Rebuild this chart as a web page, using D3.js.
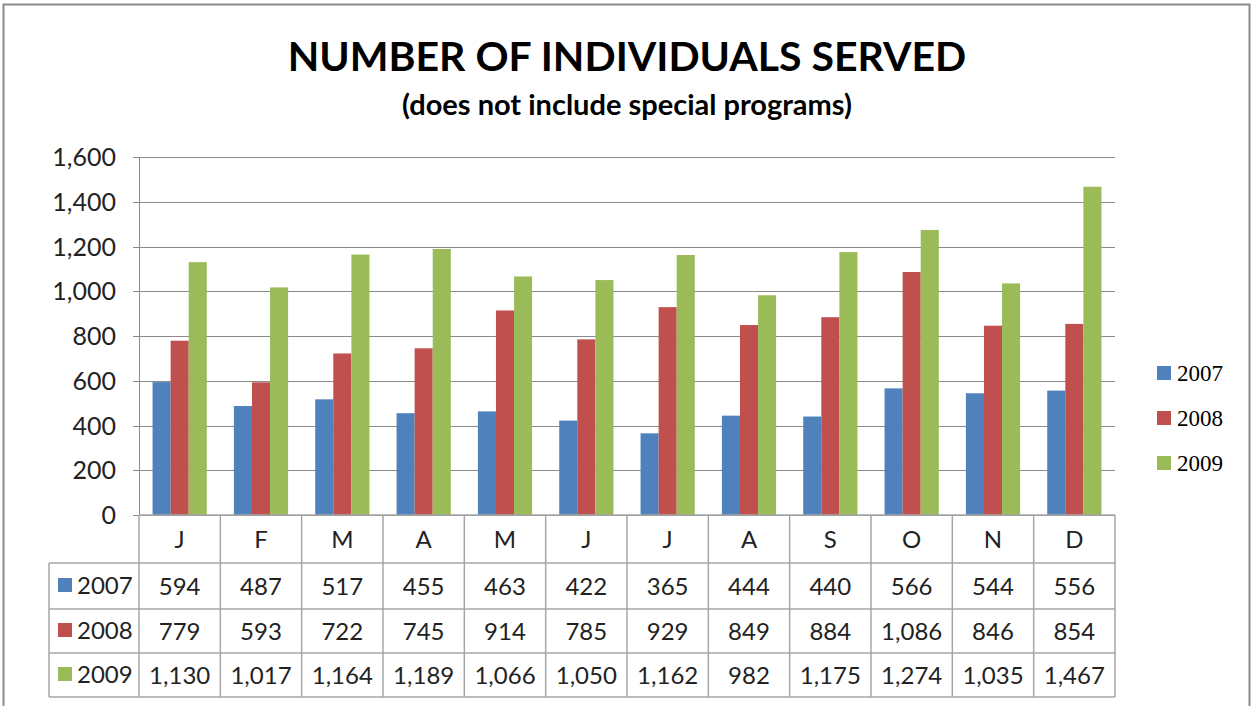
<!DOCTYPE html>
<html>
<head>
<meta charset="utf-8">
<script src="https://cdn.jsdelivr.net/npm/d3@7"></script>
<style>
  body { margin: 0; background: #fff; }
  svg { display: block; font-family: Lato, "Open Sans", sans-serif; }
</style>
</head>
<body>
<svg id="chart" width="1252" height="706"></svg>
<script>
const months = ["J", "F", "M", "A", "M", "J", "J", "A", "S", "O", "N", "D"];
const years = ["2007", "2008", "2009"];
const values2007 = [594, 487, 517, 455, 463, 422, 365, 444, 440, 566, 544, 556];
const values2008 = [779, 593, 722, 745, 914, 785, 929, 849, 884, 1086, 846, 854];
const values2009 = [1130, 1017, 1164, 1189, 1066, 1050, 1162, 982, 1175, 1274, 1035, 1467];
const yTicks = [0, 200, 400, 600, 800, 1000, 1200, 1400, 1600];
const colors = ["#4F81BD", "#C0504D", "#9BBB59"];

const series = [values2007, values2008, values2009];

const svg = d3.select("#chart");

// outer frame
svg.append("rect").attr("x", 3.5).attr("y", 4.5).attr("width", 1246).attr("height", 710)
  .attr("fill", "#fff").attr("stroke", "#8c8c8c").attr("stroke-width", 2);

// titles
svg.append("text").attr("x", 627).attr("y", 71).attr("text-anchor", "middle")
  .attr("font-size", 41).attr("font-weight", "bold").attr("fill", "#000")
  .text("NUMBER OF INDIVIDUALS SERVED");
svg.append("text").attr("x", 627).attr("y", 115).attr("text-anchor", "middle")
  .attr("font-size", 29).attr("font-weight", "bold").attr("fill", "#000")
  .text("(does not include special programs)");

const plotLeft = 139, plotRight = 1115, plotTop = 157, zeroY = 515;

const x = d3.scaleBand().domain(d3.range(months.length)).range([plotLeft, plotRight]).paddingInner(0).paddingOuter(0);
const y = d3.scaleLinear().domain([0, 1600]).range([zeroY, plotTop]);
const barW = x.bandwidth() / 4.5; // gap width 150%
const xs = d3.scaleBand().domain(d3.range(years.length)).range([0, barW * 3]);

// gridlines + tick marks
svg.append("g").selectAll("line").data(yTicks).join("line")
  .attr("x1", plotLeft - 6).attr("x2", plotRight)
  .attr("y1", d => Math.round(y(d)) + 0.5).attr("y2", d => Math.round(y(d)) + 0.5)
  .attr("stroke", "#8a8a8a").attr("stroke-width", 1);

svg.append("g").selectAll("text").data(yTicks).join("text")
  .attr("x", 116).attr("y", d => y(d) + 9).attr("text-anchor", "end")
  .attr("font-size", 25).attr("fill", "#222")
  .text(d => d3.format(",")(d));

// y axis line
svg.append("line").attr("x1", plotLeft + 0.5).attr("x2", plotLeft + 0.5).attr("y1", plotTop).attr("y2", zeroY)
  .attr("stroke", "#8a8a8a");

// bars
series.forEach((vals, si) => {
  svg.append("g").selectAll("rect").data(vals).join("rect")
    .attr("x", (d, i) => x(i) + (x.bandwidth() - barW * 3) / 2 + xs(si))
    .attr("y", d => y(d))
    .attr("width", barW)
    .attr("height", d => zeroY - y(d))
    .attr("fill", colors[si]);
});

// data table
const tableLeft = 49;
const rowH = [48, 46, 44, 44];
const rowY = [zeroY];
rowH.forEach(h => rowY.push(rowY[rowY.length - 1] + h));
const tbl = svg.append("g").attr("stroke", "#a6a6a6").attr("stroke-width", 1.5);

rowY.forEach((ry, i) => {
  tbl.append("line").attr("x1", i === 0 ? plotLeft : tableLeft).attr("x2", plotRight)
    .attr("y1", ry).attr("y2", ry);
});
d3.range(months.length + 1).forEach(i => {
  const vx = i === months.length ? plotRight : x(i);
  tbl.append("line").attr("x1", vx).attr("x2", vx).attr("y1", zeroY).attr("y2", rowY[4]);
});
tbl.append("line").attr("x1", tableLeft).attr("x2", tableLeft).attr("y1", rowY[1]).attr("y2", rowY[4]);

// month labels
svg.append("g").selectAll("text").data(months).join("text")
  .attr("x", (d, i) => x(i) + x.bandwidth() / 2).attr("y", (rowY[0] + rowY[1]) / 2 + 9)
  .attr("text-anchor", "middle").attr("font-size", 24).attr("fill", "#222")
  .text(d => d);

// series rows
series.forEach((vals, si) => {
  const cy = (rowY[si + 1] + rowY[si + 2]) / 2;
  svg.append("rect").attr("x", 58).attr("y", cy - 8).attr("width", 14).attr("height", 14)
    .attr("fill", colors[si]);
  svg.append("text").attr("x", 77).attr("y", cy + 8).attr("font-size", 24).attr("fill", "#222")
    .text(years[si]);
  svg.append("g").selectAll("text").data(vals).join("text")
    .attr("x", (d, i) => x(i) + x.bandwidth() / 2).attr("y", cy + 9)
    .attr("text-anchor", "middle").attr("font-size", 24).attr("fill", "#222")
    .text(d => d3.format(",")(d));
});

// legend
const legend = svg.append("g");
years.forEach((yr, i) => {
  const ly = 373 + i * 45;
  legend.append("rect").attr("x", 1157).attr("y", ly - 7).attr("width", 14).attr("height", 14)
    .attr("fill", colors[i]);
  legend.append("text").attr("x", 1177).attr("y", ly + 8)
    .attr("font-family", "'Liberation Serif', 'DejaVu Serif', serif")
    .attr("font-size", 23).attr("fill", "#000").text(yr);
});
</script>
</body>
</html>
